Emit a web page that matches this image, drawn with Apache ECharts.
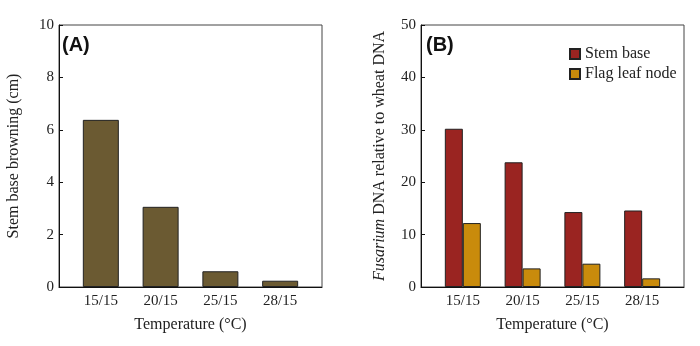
<!DOCTYPE html>
<html><head><meta charset="utf-8">
<script src="https://cdn.jsdelivr.net/npm/echarts@6/dist/echarts.min.js"></script>
<style>html,body{margin:0;padding:0;background:#fff}#c{width:700px;height:346px}</style>
</head><body><div id="c"></div>
<script>
const categories = ['15/15', '20/15', '25/15', '28/15'];
const browning = [6.38, 3.06, 0.60, 0.24];
const stemBase = [30.2, 23.8, 14.3, 14.6];
const flagLeaf = [12.2, 3.55, 4.45, 1.65];
const yTicksA = { min: 0, max: 10, interval: 2 };
const yTicksB = { min: 0, max: 50, interval: 10 };

const pos = categories.map((c, i) => i + 1);
const serif = 'Liberation Serif';
const chart = echarts.init(document.getElementById('c'));

function xAxis(gi) {
  return {
    type: 'value', gridIndex: gi, min: 0.3, max: 4.7,
    name: 'Temperature (°C)', nameLocation: 'middle', nameGap: 30,
    nameTextStyle: { fontFamily: serif, fontSize: 16, color: '#222' },
    axisLine: { show: true, lineStyle: { color: '#111', width: 1 } },
    axisTick: { show: false }, splitLine: { show: false },
    axisLabel: {
      customValues: pos, margin: 7,
      formatter: v => categories[Math.round(v) - 1] || '',
      fontFamily: serif, fontSize: 15, color: '#222'
    }
  };
}
function yAxis(gi, t, name, gap) {
  return {
    type: 'value', gridIndex: gi, min: t.min, max: t.max, interval: t.interval,
    name: name, nameLocation: 'middle', nameGap: gap,
    nameTextStyle: { fontFamily: serif, fontSize: 16, color: '#222',
      rich: { i: { fontFamily: serif, fontSize: 16, fontStyle: 'italic', color: '#222' } } },
    axisLine: { show: true, lineStyle: { color: '#111', width: 1 } },
    axisTick: { show: true, inside: true, length: 4, lineStyle: { color: '#111' } },
    splitLine: { show: false },
    axisLabel: { margin: 5, fontFamily: serif, fontSize: 15, color: '#222' }
  };
}

chart.setOption({
  animation: false,
  title: [
    { text: '(A)', left: 62, top: 35, padding: 0, textStyle: { fontFamily: 'Liberation Sans', fontWeight: 'bold', fontSize: 20, color: '#111' } },
    { text: '(B)', left: 426, top: 35, padding: 0, textStyle: { fontFamily: 'Liberation Sans', fontWeight: 'bold', fontSize: 20, color: '#111' } }
  ],
  legend: {
    data: ['Stem base', 'Flag leaf node'], orient: 'vertical', left: 569, top: 46,
    itemWidth: 10, itemHeight: 10, itemGap: 4, padding: 0,
    icon: 'rect',
    textStyle: { fontFamily: serif, fontSize: 16, color: '#222' }
  },
  grid: [
    { left: 59, top: 25, width: 263, height: 262, show: true, borderColor: '#444', borderWidth: 1 },
    { left: 421, top: 25, width: 263, height: 262, show: true, borderColor: '#444', borderWidth: 1 }
  ],
  xAxis: [xAxis(0), xAxis(1)],
  yAxis: [
    yAxis(0, yTicksA, 'Stem base browning (cm)', 37),
    yAxis(1, yTicksB, '{i|Fusarium} DNA relative to wheat DNA', 33)
  ],
  series: [
    { type: 'bar', xAxisIndex: 0, yAxisIndex: 0, barWidth: 36,
      data: browning.map((v, i) => [pos[i], v]),
      itemStyle: { color: '#6b5a32', borderColor: '#222', borderWidth: 1 } },
    { name: 'Stem base', type: 'bar', xAxisIndex: 1, yAxisIndex: 1, barWidth: 18, barGap: '0%',
      data: stemBase.map((v, i) => [pos[i], v]),
      itemStyle: { color: '#9a2421', borderColor: '#222', borderWidth: 1 } },
    { name: 'Flag leaf node', type: 'bar', xAxisIndex: 1, yAxisIndex: 1, barWidth: 18, barGap: '0%',
      data: flagLeaf.map((v, i) => [pos[i], v]),
      itemStyle: { color: '#c98b0c', borderColor: '#222', borderWidth: 1 } }
  ]
});
</script></body></html>
